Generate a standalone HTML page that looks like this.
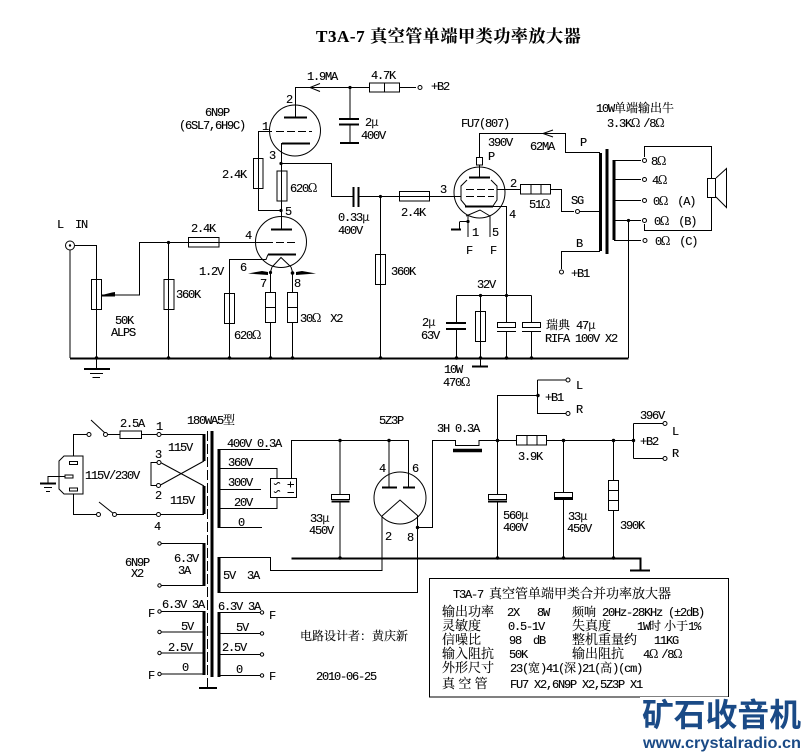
<!DOCTYPE html>
<html><head><meta charset="utf-8"><style>
html,body{margin:0;padding:0;background:#fff}
svg{display:block}
text{font-family:"Liberation Mono","Noto Serif CJK SC",monospace;font-size:12px;letter-spacing:-1.2px;fill:#000;stroke:#000;stroke-width:.12;white-space:pre}
.w{font-family:"Noto Serif CJK SC",serif;letter-spacing:3px}
.c{font-family:"Noto Serif CJK SC","Noto Sans CJK SC",serif;letter-spacing:0}
.b{font-size:13px}
.t{font-family:"Liberation Serif","Noto Serif CJK SC",serif;font-weight:bold;font-size:17px;letter-spacing:.6px;fill:#000}
.wm{font-family:"Liberation Sans","Noto Sans CJK SC",sans-serif;font-weight:bold;fill:#1a4a86;stroke:none;letter-spacing:0}
.l{fill:none;stroke:#000;stroke-width:1}
.h{fill:none;stroke:#000;stroke-width:2}
.k{fill:none;stroke:#000;stroke-width:3}
.box{fill:#fff;stroke:#000;stroke-width:1}
.d{fill:#000;stroke:none}
.o{fill:#fff;stroke:#000;stroke-width:1}
</style></head><body>
<svg width="808" height="755" viewBox="0 0 808 755" xmlns="http://www.w3.org/2000/svg">
<rect width="808" height="755" fill="#fff"/>
<text class="t" x="316" y="42">T3A-7 真空管单端甲类功率放大器</text>

<!-- upper wires -->
<g class="l">
<path d="M295.500 117V87.500H369M399 87.500H416"/>
<path d="M350 87.500V118M350 124V143"/>
<path d="M320 83.500L310 87.500L320 91.500M322 87.500H310"/>
<circle cx="295" cy="130.500" r="25.500"/>
<path d="M272 131.500H258.500V210.500H281.500V229"/>
<path d="M281.500 143V171M281.500 201V229"/>
<path d="M281.500 163.500H331.500V196.500H353M358 196.500H399M429 196.500H461"/>
<path d="M380.500 196.500V254M380.500 284V358"/>
<circle cx="281" cy="242" r="25.500"/>
<path d="M70 250V358M75 245.500H96.500V279M96.500 309V358"/>
<path d="M102 295H139.500V242.500H188M219 242.500H265M168.500 242.500V279M168.500 309V358"/>
<path d="M268 254.500L266 259.500H229.500V293M229.500 323V358"/>
<path d="M272 267L281 257.500L291 267"/>
<path d="M272 267L270.500 272V292M270.500 322V358M291 267L292.500 272V292M292.500 322V358"/>
<path d="M479.500 157V133.500H565.500V152.500H600"/>
<path d="M553 133.500H543M553 130L543 133.500L553 137"/>
<circle cx="479.500" cy="192.500" r="25.500"/>
<path d="M467 180L461 186V200L466 206M491 180L497 186V200L493 206"/>
<path d="M497 189.500H520M551 189.500H561.500V211.500H574M580 211.500H600"/>
<path d="M493 206.500H506.500V322M506.500 331V358"/>
<path d="M466 216L480 210L490 216M468 216V237M490 216V237M460 221.500H468M459.500 221.500V229"/>
<path d="M456.500 295.500H531.500M456.500 295.500V323M456.500 329V358M480.500 295.500V311M480.500 341V366M506.500 295V322M531.500 295.500V322M531.500 331V358"/>
<path d="M561.500 269V251.500H600"/>
<path d="M614 160.500H641M614 179.500H641M614 200.500H641M614 220.500H641M614 240.500H641M628.500 220.500V358"/>
<path d="M644.500 157V146.500H711.500V178M711.500 197V230.500H644.500V224"/>
<path d="M716 178L726.500 168.500V207.500L716 197"/>
</g>
<path d="M276 131.500H312M265 242.500H297M466 189.500H494M466 196.500H494" stroke="#000" stroke-dasharray="8 3" fill="none"/>
<g class="h">
<path d="M284 117.500H307M282 143.500H310M339 119H359M339 124.500H359M340 143H359M271 229.500H292M268 254.500H296M353.500 187V207M358.500 187V207"/>
<path d="M469 177.500H490M465 206.500H493M446 323H466M446 329H466M70 358.500H628.500M84 369H110M472 366.500H488M451 229.500H461"/>
</g>
<path d="M96.500 358V369M90 373.500H103M92.500 377.500H100" class="l"/>
<path class="k" d="M600.500 153V251M607 149V254M614 160V240"/>
<path class="d" d="M248 273.500L262 271L268 272V275ZM316 273.500L302 271L296 272V275ZM102 295L112 292.500L115 292V296.500H102Z"/>
<!-- R / boxes upper -->
<g class="box">
<rect x="369.500" y="83" width="30" height="9"/>
<rect x="253.500" y="158.500" width="9.500" height="30"/>
<rect x="277" y="171" width="10" height="30"/>
<rect x="399.500" y="191.500" width="30" height="9.500"/>
<rect x="188.500" y="237.500" width="30.500" height="9.500"/>
<rect x="91.500" y="279.500" width="10" height="30"/>
<rect x="164" y="279.500" width="10" height="30"/>
<rect x="224.500" y="293.500" width="10" height="30"/>
<rect x="265.500" y="292.500" width="10" height="30"/>
<rect x="287.500" y="292.500" width="10" height="30"/>
<rect x="375.500" y="254.500" width="10" height="30"/>
<rect x="520.500" y="184.500" width="30" height="9.500"/>
<rect x="476.500" y="157.500" width="6" height="7.500"/>
<rect x="475.500" y="311.500" width="10" height="30"/>
<rect x="497.500" y="322.500" width="18" height="5"/>
<rect x="522.500" y="322.500" width="18" height="5"/>
<rect x="707.500" y="178.500" width="8" height="19"/>
</g>
<path class="l" d="M384.500 83V92M258.500 158V188M281.500 171V201M400 196.500H429M189 242.500H219M96.500 280V309M168.500 280V309M229.500 294V323M266 307.500H275M288 307.500H297M380.500 255V284M531 185V194M541 185V194M480.500 312V341M497 331.500H516M522 331.500H541M479.500 165V177"/>
<g class="o">
<circle cx="70" cy="245.500" r="4.500"/><circle cx="420" cy="87.500" r="2"/>
<circle cx="577.500" cy="211.500" r="2"/><circle cx="561.500" cy="272" r="2"/>
<circle cx="644.500" cy="160.500" r="2"/><circle cx="644.500" cy="179.500" r="2"/><circle cx="644.500" cy="200.500" r="2"/><circle cx="644.500" cy="220.500" r="2"/><circle cx="645" cy="240.500" r="2"/>
</g>
<circle cx="70" cy="245.500" r="1.200" class="d"/>
<g class="d">
<circle cx="350" cy="87.500" r="1.600"/><circle cx="281" cy="163.500" r="1.600"/><circle cx="281" cy="210.500" r="1.600"/><circle cx="380.500" cy="196.500" r="1.600"/>
<circle cx="168.500" cy="242.500" r="1.600"/><circle cx="270.500" cy="272.500" r="1.600"/><circle cx="292.500" cy="273" r="1.800"/>
<circle cx="468" cy="221.500" r="1.600"/><circle cx="480.500" cy="295.500" r="1.600"/><circle cx="506.500" cy="295.500" r="1.600"/><circle cx="628.500" cy="220.500" r="1.600"/>
<circle cx="96.500" cy="358" r="1.800"/><circle cx="168.500" cy="358" r="1.800"/><circle cx="229.500" cy="358" r="1.800"/><circle cx="270.500" cy="358" r="1.800"/><circle cx="292.500" cy="358" r="1.800"/><circle cx="380.500" cy="358" r="1.800"/><circle cx="456.500" cy="358" r="1.800"/><circle cx="480.500" cy="358" r="1.800"/><circle cx="506.500" cy="358" r="1.800"/><circle cx="531.500" cy="358" r="1.800"/>
</g>

<!-- lower wires -->
<g class="l">
<path d="M207.500 431V688" stroke-dasharray="10 3"/>
<path d="M73.500 456V434.500H87M91 420L106 434M108 434.500H120M141 434.500H157M161 434.500H204"/>
<path d="M73.500 494V514.500H96.500M99 502L114 514M117 514.500H156M161 514.500H204"/>
<path d="M204 461L160.500 485M204 486L160.500 462.500M157 462.500H151V485.500H157"/>
<path d="M59 461L64 456H83V494H64L59 489Z"/>
<path d="M48 484V476.500H70"/>
<path d="M44 487.500H52M46 491.500H50"/>
<path d="M161 543.500H204M161 585.500H204M161 611.500H204M161 632H204M161 653H204M161 674H204"/>
<path d="M219 612.500H260M219 633.500H260M219 654.500H260M219 675.500H260"/>
<path d="M219 449.500H270M219 468.500H277V478M219 489.500H261M219 508.500H277V497.500M219 527.500H262"/>
<path d="M291.500 478V440.500H408.500V488M340 440.500V494M340 502V558M389 440.500V487"/>
<path d="M382 516L400 500L418 516"/>
<circle cx="400" cy="498" r="26"/>
<path d="M382 516V570.500H270.500V557.500H219M219 592.500H417.500V516"/>
<path d="M417.500 527.500H432.500V440.500H455.500V445.500H479V440.500H516M546.500 440.500H633.500"/>
<path d="M497.500 440.500V395.500H538M537.500 380H566M537.500 380V413.500H566"/>
<path d="M633.500 423.500V458.500M633.500 423.500H663M633.500 458.500H663"/>
<path d="M497.500 440V494M497.500 502V558M563.500 440V492M563.500 499V558M613.500 440V480M613.500 510V558"/>
</g>
<g class="h">
<path d="M199 688H217M40 483.500H56M382 487.500H397M403 487.500H415M291.500 558.500H640.500V570M630 570.500H650M331.500 501.500H349.500M488 501.500H507M554 499H573"/>
</g>
<path class="k" d="M204 434V461M204 486V514M204 543V586M204 611V675M219 449V528M219 557V593M219 612V677M212 431V677"/>
<path d="M453 450.500H482" stroke="#000" stroke-width="3.500" fill="none"/>
<g class="box">
<rect x="120" y="431" width="21.500" height="7.500"/>
<rect x="69.500" y="461.500" width="8" height="3"/><rect x="65" y="475" width="8" height="3"/><rect x="69.500" y="488" width="8" height="3"/>
<rect x="270.500" y="478.500" width="26" height="19"/>
<rect x="331.500" y="494.500" width="18" height="5"/>
<rect x="516.500" y="435.500" width="30" height="9.500"/>
<rect x="488.500" y="494.500" width="18" height="5"/>
<rect x="554.500" y="492.500" width="18" height="5"/>
<rect x="608.500" y="480.500" width="10" height="30"/>
</g>
<path class="l" d="M527 436V445M537 436V445M609 490.500H618M609 500.500H618M287.500 484.500H294M290.500 481.500V487.500M287.500 492.500H294"/>
<path class="l" d="M274 483.500q1.500 2 3 0t3 0M274 491.500q1.500 2 3 0t3 0"/>
<g class="o">
<circle cx="159" cy="434.500" r="2"/><circle cx="159" cy="462.500" r="2"/><circle cx="158.500" cy="485.500" r="2"/><circle cx="158.500" cy="514.500" r="2"/>
<circle cx="89" cy="434.500" r="2"/><circle cx="105.500" cy="434.500" r="2"/><circle cx="98.500" cy="514.500" r="2"/><circle cx="114.500" cy="514.500" r="2"/>
<circle cx="159.500" cy="543.500" r="1.700"/><circle cx="159.500" cy="585.500" r="1.700"/><circle cx="159.500" cy="611.500" r="1.700"/><circle cx="159.500" cy="632" r="1.700"/><circle cx="159.500" cy="653" r="1.700"/><circle cx="159.500" cy="674" r="1.700"/>
<circle cx="262" cy="612.500" r="1.700"/><circle cx="262" cy="633.500" r="1.700"/><circle cx="262" cy="654.500" r="1.700"/><circle cx="262" cy="675.500" r="1.700"/>
<circle cx="568" cy="380" r="2"/><circle cx="568" cy="413.500" r="2"/><circle cx="665" cy="423.500" r="2"/><circle cx="665" cy="458.500" r="2"/>
</g>
<g class="d">
<circle cx="340" cy="440.500" r="1.700"/><circle cx="389" cy="440.500" r="1.700"/><circle cx="497.500" cy="440.500" r="1.700"/><circle cx="563.500" cy="440.500" r="1.700"/><circle cx="613.500" cy="440.500" r="1.700"/><circle cx="633.500" cy="440.500" r="1.700"/><circle cx="538" cy="395.500" r="1.700"/><circle cx="417.500" cy="527.500" r="1.700"/>
<circle cx="340" cy="558" r="1.800"/><circle cx="497.500" cy="558" r="1.800"/><circle cx="563.500" cy="558" r="1.800"/><circle cx="613.500" cy="558" r="1.800"/>
</g>

<!-- upper labels -->
<text x="307" y="80">1.9MA</text><text x="371" y="79">4.7K</text><text x="286" y="103">2</text>
<text x="205" y="116">6N9P</text><text x="179" y="129">(6SL7,6H9C)</text><text x="262" y="130">1</text><text x="269" y="159">3</text>
<text x="222" y="178">2.4K</text><text x="290" y="192">620<tspan class="w">Ω</tspan></text><text x="285" y="215">5</text>
<text x="365" y="126">2<tspan class="w">μ</tspan></text><text x="361" y="139">400V</text>
<text x="57" y="228">L  IN</text><text x="191" y="232">2.4K</text><text x="245" y="239">4</text><text x="176" y="298">360K</text>
<text x="199" y="275">1.2V</text><text x="240" y="271">6</text><text x="260" y="287">7</text><text x="294" y="287">8</text>
<text x="115" y="324">50K</text><text x="111" y="336">ALPS</text><text x="234" y="339">620<tspan class="w">Ω</tspan></text>
<text x="300" y="322">30<tspan class="w">Ω</tspan> X2</text><text x="338" y="221">0.33<tspan class="w">μ</tspan></text><text x="338" y="234">400V</text><text x="391" y="275">360K</text>
<text x="431" y="90">+B2</text><text x="461" y="127">FU7(807)</text>
<text x="596" y="112">10W<tspan class="c">单端输出牛</tspan></text><text x="607" y="127">3.3K<tspan class="w">Ω</tspan>/8<tspan class="w">Ω</tspan></text>
<text x="488" y="146">390V</text><text x="488" y="160">P</text><text x="530" y="150">62MA</text><text x="580" y="146">P</text>
<text x="440" y="193">3</text><text x="510" y="187">2</text><text x="401" y="216">2.4K</text><text x="529" y="208">51<tspan class="w">Ω</tspan></text>
<text x="571" y="204">SG</text><text x="509" y="218">4</text><text x="472" y="236">1</text><text x="492" y="236">5</text><text x="466" y="254">F</text><text x="490" y="254">F</text>
<text x="576" y="247">B</text><text x="571" y="277">+B1</text>
<text x="651" y="165">8<tspan class="w">Ω</tspan></text><text x="652" y="184">4<tspan class="w">Ω</tspan></text>
<text x="653" y="205">0<tspan class="w">Ω</tspan> (A)</text><text x="654" y="225">0<tspan class="w">Ω</tspan> (B)</text><text x="655" y="245">0<tspan class="w">Ω</tspan> (C)</text>
<text x="477" y="288">32V</text><text x="422" y="326">2<tspan class="w">μ</tspan></text><text x="421" y="339">63V</text>
<text x="546" y="329"><tspan class="c">瑞典</tspan> 47<tspan class="w">μ</tspan></text><text x="545" y="342">RIFA 100V X2</text>
<text x="444" y="373">10W</text><text x="443" y="386">470<tspan class="w">Ω</tspan></text>

<!-- lower labels -->
<text x="187" y="424">180WA5<tspan class="c">型</tspan></text><text x="120" y="427">2.5A</text>
<text x="156" y="430">1</text><text x="155" y="458">3</text><text x="155" y="499">2</text><text x="154" y="530">4</text>
<text x="168" y="451">115V</text><text x="170" y="504">115V</text><text x="85" y="479">115V/230V</text>
<text x="227" y="447">400V 0.3A</text><text x="228" y="466">360V</text><text x="228" y="486">300V</text><text x="234" y="506">20V</text><text x="238" y="526">0</text>
<text x="310" y="522">33<tspan class="w">μ</tspan></text><text x="309" y="534">450V</text>
<text x="379" y="472">4</text><text x="385" y="540">2</text><text x="379" y="424">5Z3P</text><text x="412" y="472">6</text><text x="407" y="541">8</text>
<text x="125" y="566">6N9P</text><text x="131" y="577">X2</text><text x="174" y="562">6.3V</text><text x="178" y="574">3A</text><text x="223" y="579">5V  3A</text>
<text x="162" y="608">6.3V 3A</text><text x="181" y="630">5V</text><text x="168" y="651">2.5V</text><text x="182" y="671">0</text><text x="148" y="617">F</text><text x="148" y="679">F</text>
<text x="218" y="610">6.3V 3A</text><text x="236" y="631">5V</text><text x="222" y="651">2.5V</text><text x="236" y="673">0</text><text x="269" y="619">F</text><text x="269" y="680">F</text>
<text x="300" y="640" class="c">电路设计者：黄庆新</text><text x="316" y="680">2010-06-25</text>
<text x="576" y="389">L</text><text x="576" y="413">R</text><text x="545" y="401">+B1</text>
<text x="437" y="432">3H 0.3A</text><text x="518" y="460">3.9K</text><text x="640" y="419">396V</text><text x="672" y="435">L</text><text x="672" y="457">R</text><text x="640" y="445">+B2</text>
<text x="503" y="519">560<tspan class="w">μ</tspan></text><text x="503" y="531">400V</text><text x="568" y="520">33<tspan class="w">μ</tspan></text><text x="567" y="532">450V</text><text x="620" y="529">390K</text>

<!-- info box -->
<rect x="429.500" y="578.500" width="299" height="118.500" fill="#fff" stroke="#000"/>
<text x="453" y="598">T3A-7 <tspan class="c b">真空管单端甲类合并功率放大器</tspan></text>
<text x="442" y="616" class="c b">输出功率</text><text x="507" y="616">2X   8W</text><text x="572" y="616"><tspan class="c">频响</tspan> 20Hz-28KHz (±2dB)</text>
<text x="442" y="630" class="c b">灵敏度</text><text x="508" y="630">0.5-1V</text><text x="572" y="630" class="c b">失真度</text><text x="637" y="630">1W<tspan class="c">时 小于</tspan>1%</text>
<text x="442" y="644" class="c b">信噪比</text><text x="509" y="644">98  dB</text><text x="572" y="644" class="c b">整机重量约</text><text x="654" y="644">11KG</text>
<text x="442" y="658" class="c b">输入阻抗</text><text x="509" y="658">50K</text><text x="572" y="658" class="c b">输出阻抗</text><text x="643" y="658">4<tspan class="w">Ω</tspan>/8<tspan class="w">Ω</tspan></text>
<text x="442" y="672" class="c b">外形尺寸</text><text x="510" y="672">23(<tspan class="c">宽</tspan>)41(<tspan class="c">深</tspan>)21(<tspan class="c">高</tspan>)(cm)</text>
<text x="442" y="688" class="c b">真 空 管</text><text x="510" y="688">FU7 X2,6N9P X2,5Z3P X1</text>

<!-- watermark -->
<rect x="640" y="697" width="168" height="58" fill="#fff"/>
<path d="M429.500 697H640" stroke="#000" fill="none"/>
<text class="wm" x="642" y="726" style="font-size:32px" textLength="159" lengthAdjust="spacingAndGlyphs">矿石收音机</text>
<text class="wm" x="643" y="748" style="font-size:16px" textLength="158" lengthAdjust="spacingAndGlyphs">www.crystalradio.cn</text>
</svg>
</body></html>
